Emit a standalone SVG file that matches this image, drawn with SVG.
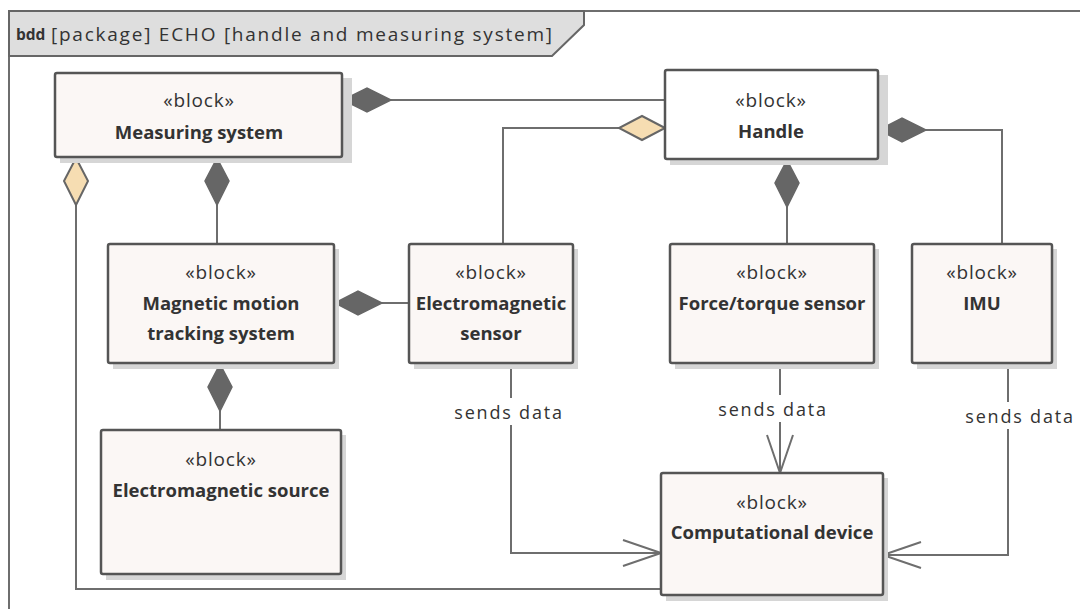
<svg xmlns="http://www.w3.org/2000/svg" width="1080" height="609" viewBox="0 0 1080 609">
<defs>
<style>
.box{fill:#fbf7f5;stroke:#555;stroke-width:2.5}
.white{fill:#ffffff}
.shadow{fill:#d6d6d6}
.ster{font-family:"Open Sans","Liberation Sans",sans-serif;font-size:19px;letter-spacing:0.8px;fill:#333;text-anchor:middle;dominant-baseline:central}
.name{font-family:"Open Sans","Liberation Sans",sans-serif;font-size:18.5px;font-weight:bold;fill:#333;text-anchor:middle;dominant-baseline:central}
.conn{fill:none;stroke:#6e6e6e;stroke-width:2}
.comp{fill:#666;stroke:#666;stroke-width:1.5}
.agg{fill:#f6ddb2;stroke:#666;stroke-width:2}
.lbl{font-family:"Open Sans","Liberation Sans",sans-serif;font-size:18px;letter-spacing:1.8px;fill:#333;text-anchor:middle;dominant-baseline:central}
</style>
<marker id="open" viewBox="0 0 40 30" refX="39" refY="15" markerWidth="40" markerHeight="30" markerUnits="userSpaceOnUse" orient="auto">
<path d="M1,2 L39,15 L1,28" fill="none" stroke="#6e6e6e" stroke-width="2"/>
</marker>
</defs>
<rect width="1080" height="609" fill="#ffffff"/>
<g id="frame">
<path d="M9,609 V11 H1080" fill="none" stroke="#6e6e6e" stroke-width="2"/>
<path d="M9,11 H584 V25 L552,56 H9 Z" fill="#dedede" stroke="#666" stroke-width="2"/>
<text x="16" y="34" font-family="'Open Sans','Liberation Sans',sans-serif" font-size="15.5" font-weight="bold" fill="#333" dominant-baseline="central">bdd</text>
<text x="51" y="34" font-family="'Open Sans','Liberation Sans',sans-serif" font-size="19" fill="#333" dominant-baseline="central" textLength="501" lengthAdjust="spacing">[package] ECHO [handle and measuring system]</text>
</g>
<g id="connectors">
<path class="conn" d="M391,100 H665"/>
<polygon class="comp" points="343,100 367,88 391,100 367,112"/>
<path class="conn" d="M620,128 H503 V244"/>
<polygon class="agg" points="665,128 642,116 619,128 642,140"/>
<path class="conn" d="M926,130 H1002 V244"/>
<polygon class="comp" points="879,130 902,118 926,130 902,142"/>
<path class="conn" d="M787,207 V244"/>
<polygon class="comp" points="787,160 775,183 787,207 799,183"/>
<path class="conn" d="M217,205 V244"/>
<polygon class="comp" points="217,158 205,181 217,205 229,181"/>
<path class="conn" d="M382,303 H409"/>
<polygon class="comp" points="335,303 358,291 382,303 358,315"/>
<path class="conn" d="M220,411 V430"/>
<polygon class="comp" points="220,364 208,387 220,411 232,387"/>
<path class="conn" d="M76,205 V589 H661"/>
<polygon class="agg" points="76,158 64,181 76,205 88,181"/>
<path class="conn" d="M511,363 V553 H661" marker-end="url(#open)"/>
<path class="conn" d="M780,363 V473" marker-end="url(#open)"/>
<path class="conn" d="M1008,363 V555 H883" marker-end="url(#open)"/>
<rect x="448" y="398" width="122" height="27" fill="#ffffff"/>
<text class="lbl" x="509" y="412">sends data</text>
<rect x="712" y="395" width="122" height="27" fill="#ffffff"/>
<text class="lbl" x="773" y="409">sends data</text>
<rect x="959" y="402" width="121" height="27" fill="#ffffff"/>
<text class="lbl" x="1020" y="416">sends data</text>
</g>
<g id="measuring-system">
<rect class="shadow" x="60" y="78" width="292" height="85"/>
<rect class="box" x="55" y="73" width="287" height="84" rx="2"/>
<text class="ster" x="199" y="100">«block»</text>
<text class="name" x="199" y="131">Measuring system</text>
</g>
<g id="handle">
<rect class="shadow" x="670" y="75" width="218" height="90"/>
<rect class="box white" x="665" y="70" width="213" height="89" rx="2"/>
<text class="ster" x="771" y="100">«block»</text>
<text class="name" x="771" y="130">Handle</text>
</g>
<g id="magnetic-motion-tracking-system">
<rect class="shadow" x="113" y="249" width="226" height="120"/>
<rect class="box" x="108" y="244" width="226" height="119" rx="2"/>
<text class="ster" x="221" y="272">«block»</text>
<text class="name" x="221" y="302">Magnetic motion</text>
<text class="name" x="221" y="332">tracking system</text>
</g>
<g id="electromagnetic-sensor">
<rect class="shadow" x="414" y="249" width="164" height="120"/>
<rect class="box" x="409" y="244" width="164" height="119" rx="2"/>
<text class="ster" x="491" y="272">«block»</text>
<text class="name" x="491" y="302">Electromagnetic</text>
<text class="name" x="491" y="332">sensor</text>
</g>
<g id="force-torque-sensor">
<rect class="shadow" x="675" y="249" width="204" height="120"/>
<rect class="box" x="670" y="244" width="204" height="119" rx="2"/>
<text class="ster" x="772" y="272">«block»</text>
<text class="name" x="772" y="302">Force/torque sensor</text>
</g>
<g id="imu">
<rect class="shadow" x="917" y="249" width="140" height="120"/>
<rect class="box" x="912" y="244" width="140" height="119" rx="2"/>
<text class="ster" x="982" y="272">«block»</text>
<text class="name" x="982" y="302">IMU</text>
</g>
<g id="electromagnetic-source">
<rect class="shadow" x="106" y="435" width="240" height="145"/>
<rect class="box" x="101" y="430" width="240" height="144" rx="2"/>
<text class="ster" x="221" y="459">«block»</text>
<text class="name" x="221" y="489">Electromagnetic source</text>
</g>
<g id="computational-device">
<rect class="shadow" x="666" y="478" width="222" height="123"/>
<rect class="box" x="661" y="473" width="222" height="122" rx="2"/>
<text class="ster" x="772" y="502">«block»</text>
<text class="name" x="772" y="531">Computational device</text>
</g>
</svg>
